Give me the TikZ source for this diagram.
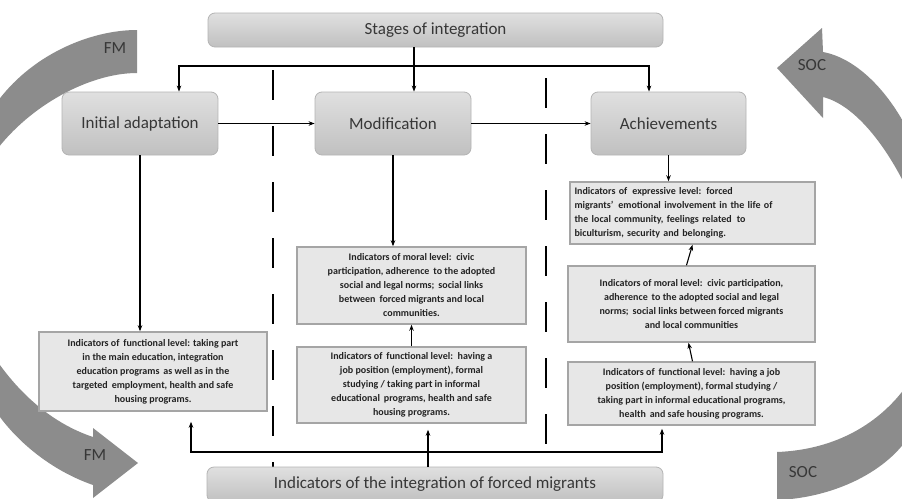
\documentclass[tikz,border=0pt]{standalone}
\usepackage{fontspec}
\setmainfont{Carlito}
\usetikzlibrary{arrows.meta,calc}
\definecolor{bandgray}{RGB}{140,140,140}
\definecolor{boxfill}{RGB}{231,231,231}
\definecolor{boxline}{RGB}{165,165,165}
\definecolor{stagetop}{RGB}{224,224,224}
\definecolor{stagebot}{RGB}{192,192,192}
\definecolor{stageline}{RGB}{180,180,180}
\definecolor{txt}{RGB}{55,55,55}
\definecolor{smalltxt}{RGB}{35,35,35}
\begin{document}
\begin{tikzpicture}[x=1pt,y=-1pt,
  stagebox/.style={draw=stageline, line width=0.8pt, rounded corners=7pt,
    top color=stagetop, bottom color=stagebot, text=txt,
    font=\fontsize{17}{20}\selectfont, inner sep=0pt},
  indbox/.style={draw=boxline, line width=1.5pt, fill=boxfill, text=smalltxt,
    font=\bfseries\fontsize{10}{14}\selectfont, align=center, inner sep=0pt},
  conn/.style={line width=1.1pt, -{Stealth[length=6pt,width=4.5pt]}},
  bothconn/.style={line width=1.1pt, {Stealth[length=6pt,width=4.5pt]}-{Stealth[length=6pt,width=4.5pt]}},
  dashline/.style={line width=1.3pt, dash pattern=on 30pt off 26pt},
  band/.style={fill=bandgray},
  bandlabel/.style={text=txt, font=\fontsize{17}{20}\selectfont}]
\useasboundingbox (0,0) rectangle (902,498);
\fill[white] (0,0) rectangle (902,498);
\begin{scope}
\clip (0,0) rectangle (902,498);
\fill[band] (137,30) .. controls (90,30) and (30,55) .. (-5,105) -- (-5,152) .. controls (30,105) and (90,73) .. (137,73) -- cycle;
\fill[band] (-5,358) .. controls (25,402) and (60,426) .. (93,437) -- (93,428) -- (138,463) -- (93,498) -- (93,485) .. controls (50,470) and (15,440) .. (-5,410) -- cycle;
\fill[band] (905,125) .. controls (885,88) and (855,58) .. (823,52) -- (822,28) -- (777,68) -- (823,118) -- (823,97) .. controls (855,105) and (885,145) .. (905,185) -- cycle;
\fill[band] (777,452) .. controls (830,450) and (875,428) .. (905,388) -- (905,442) .. controls (880,475) and (830,498) .. (777,500) -- cycle;

\node[bandlabel] (fm1) at (115,48) {FM};
\node[bandlabel] (fm2) at (95,455) {FM};
\node[bandlabel] (soc1) at (812,65) {SOC};
\node[bandlabel] (soc2) at (803,472) {SOC};

\draw[dashline] (273,70) -- (273,467);
\draw[dashline] (546,78) -- (546,467);

\node[stagebox, minimum width=455pt, minimum height=34pt] (stages) at (435.5,30) {Stages of integration};
\node[stagebox, minimum width=156pt, minimum height=63pt] (ia) at (140,123.5) {Initial adaptation};
\node[stagebox, minimum width=156pt, minimum height=63pt] (mod) at (393,123.5) {Modification};
\node[stagebox, minimum width=155pt, minimum height=63pt] (ach) at (668.5,123.5) {Achievements};
\node[stagebox, minimum width=456pt, minimum height=35pt] (ind) at (435,484.5) {Indicators of the integration of forced migrants};

\node[indbox, minimum width=228pt, minimum height=79pt] (lf) at (153,371.5)
  {Indicators of\, functional level: taking part\\ in the main education, integration\\ education programs\, as well as in the\\ targeted\, employment, health and safe\\ housing programs.};
\node[indbox, minimum width=229pt, minimum height=77pt] (mm) at (411.5,285.5)
  {Indicators of moral level:\, civic\\ participation, adherence\, to the adopted\\ social and legal norms;\, social links\\ between\, forced migrants and local\\ communities.};
\node[indbox, minimum width=229pt, minimum height=76pt] (mf) at (411.5,385)
  {Indicators of\, functional level:\, having a\\ job position (employment), formal\\ studying / taking part in informal\\ educational\, programs, health and safe\\ housing programs.};
\node[indbox, align=left, text width=236pt, inner xsep=4.5pt, minimum height=62pt] (re) at (692.5,213)
  {Indicators of\, expressive level: forced\\ migrants’\, emotional involvement in the life of\\ the local community, feelings related\, to\\ biculturism, security and belonging.};
\node[indbox, minimum width=247pt, minimum height=76pt] (rm) at (691.5,304)
  {Indicators of moral level:\, civic participation,\\ adherence\, to the adopted social and legal\\ norms;\, social links between forced migrants\\ and local communities};
\node[indbox, minimum width=247pt, minimum height=63pt] (rf) at (691.5,393.5)
  {Indicators of\, functional level:\, having a job\\ position (employment), formal studying /\\ taking part in informal educational programs,\\ health\, and safe housing programs.};

\coordinate (sx) at (414,66);
\coordinate (tl) at (179,66);
\coordinate (tr) at (649,66);
\draw[line width=1.1pt] (stages.south -| sx) -- (sx);
\draw[conn] (sx) -- (sx |- mod.north);
\draw[bothconn] (tl |- ia.north) -- (tl) -- (tr) -- (tr |- ach.north);
\draw[conn] (ia.east) -- (mod.west);
\draw[conn] (mod.east) -- (ach.west);
\draw[conn] (ia.south) -- (ia.south |- lf.north);
\draw[conn] (mod.south) -- (mod.south |- mm.north);
\draw[conn] (mf.north) -- (mm.south);
\draw[conn] (ach.south) -- (ach.south |- re.north);
\draw[conn] ([xshift=-5pt]rm.north) -- (re.south);
\draw[conn] ([xshift=1pt]rf.north) -- ([xshift=-3pt]rm.south);

\coordinate (bh) at (428,452);
\draw[line width=2pt] (ind.north -| bh) -- (bh);
\draw[conn] (bh) -| ($(lf.south)+(38,10)$);
\draw[conn] (bh) -- ($(mf.south -| bh)+(0,6)$);
\draw[conn] (bh) -| ($(rf.south)+(-29.5,3)$);
\end{scope}
\end{tikzpicture}
\end{document}
